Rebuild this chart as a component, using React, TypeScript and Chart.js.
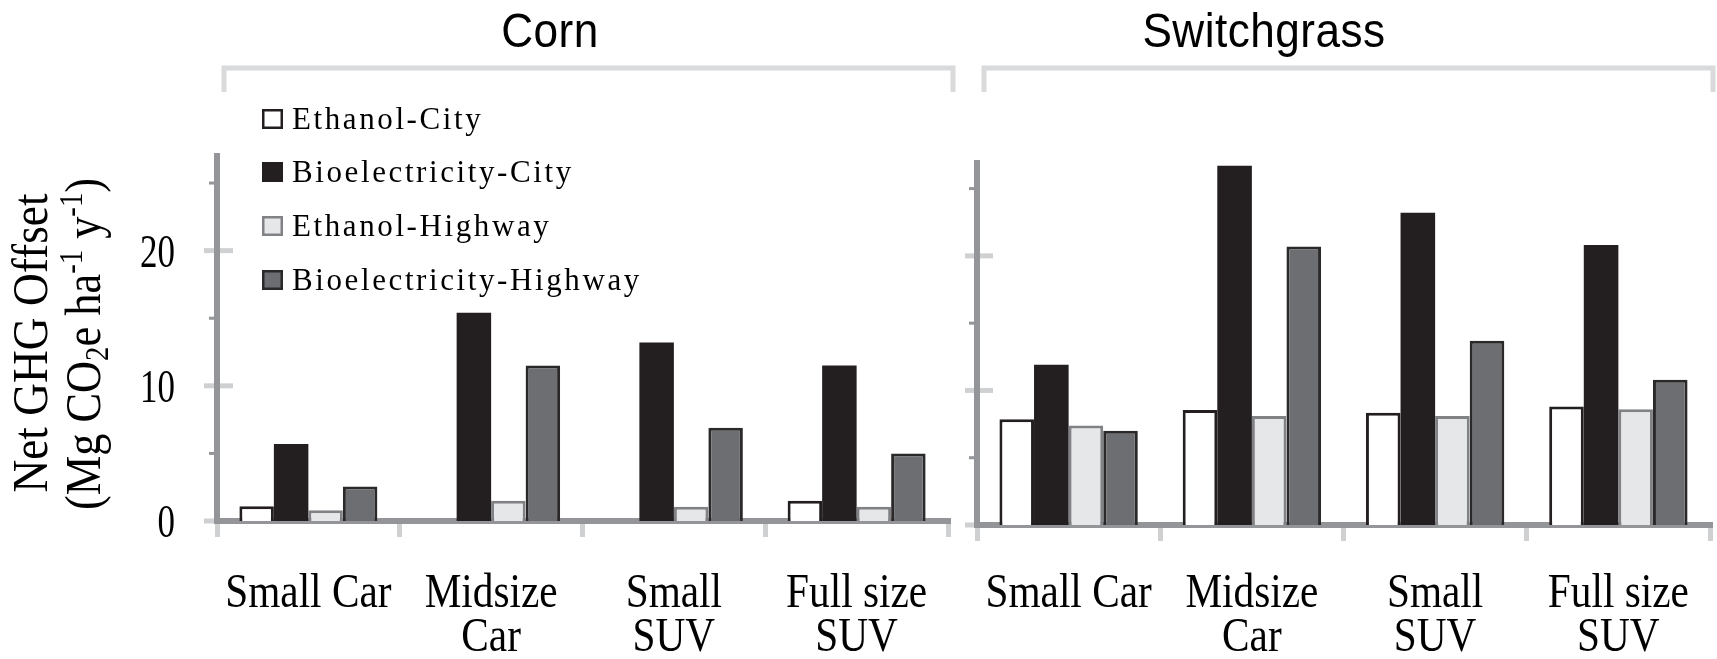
import React, { useEffect, useRef } from "react";
import { Chart, registerables } from "chart.js";

Chart.register(...registerables);

// Vehicle classes on the x axis (each entry is one label, split into lines)
const vehicleClasses: string[][] = [["Small Car"], ["Midsize", "Car"], ["Small", "SUV"], ["Full size", "SUV"]];

// Series names
const seriesNames = ["Ethanol-City", "Bioelectricity-City", "Ethanol-Highway", "Bioelectricity-Highway"];

// Corn: net GHG offset, Mg CO2e ha-1 y-1
const cornEthanolCity = [1.1, 0, 0, 1.5];
const cornBioelectricityCity = [5.7, 15.4, 13.2, 11.5];
const cornEthanolHighway = [0.8, 1.5, 1.05, 1.05];
const cornBioelectricityHighway = [2.55, 11.5, 6.9, 5.0];

// Switchgrass: net GHG offset, Mg CO2e ha-1 y-1
const switchgrassEthanolCity = [7.85, 8.55, 8.35, 8.8];
const switchgrassBioelectricityCity = [11.9, 26.7, 23.2, 20.8];
const switchgrassEthanolHighway = [7.4, 8.1, 8.1, 8.6];
const switchgrassBioelectricityHighway = [7.0, 20.7, 13.7, 10.8];

// Y axis tick marks and the ones that carry a label
const yTickMarks = [0, 5, 10, 15, 20, 25];
const yTickLabels = [0, 10, 20];

// Bar appearance per series
const seriesFill = ["#ffffff", "#231f20", "#e6e7e8", "#6d6e71"];
const seriesBorder = ["#231f20", "#231f20", "#808285", "#2b2829"];
const seriesBorderWidth = [3, 0, 3, 3];

const AXIS_GREY = "#939598";
const LIGHT_GREY = "#cfd0d2";

function buildDatasets(values: number[][]) {
  return values.map((data, i) => ({
    label: seriesNames[i],
    data,
    backgroundColor: seriesFill[i],
    borderColor: seriesBorder[i],
    borderWidth: seriesBorderWidth[i],
    borderSkipped: "start" as const,
    barPercentage: 1,
    categoryPercentage: 0.755,
  }));
}

// Draws text squeezed horizontally (narrow face), optionally rotated
function squeezedText(
  ctx: CanvasRenderingContext2D,
  text: string,
  x: number,
  y: number,
  font: string,
  sx: number,
  align: CanvasTextAlign,
  spacing = 0
) {
  ctx.save();
  ctx.translate(x, y);
  ctx.scale(sx, 1);
  ctx.font = font;
  ctx.textAlign = align;
  ctx.textBaseline = "alphabetic";
  (ctx as any).letterSpacing = spacing + "px";
  ctx.fillStyle = "#000";
  ctx.fillText(text, 0, 0);
  (ctx as any).letterSpacing = "0px";
  ctx.restore();
}

type Seg = { t: string; kind?: "sub" | "sup" };

// Vertical axis title line with sub/superscripts, reading bottom to top
function verticalRich(ctx: CanvasRenderingContext2D, segs: Seg[], baseX: number, centerY: number, size: number, sx: number) {
  const small = Math.round(size * 0.64);
  ctx.save();
  ctx.translate(baseX, centerY);
  ctx.rotate(-Math.PI / 2);
  ctx.scale(sx, 1);
  ctx.fillStyle = "#000";
  ctx.textBaseline = "alphabetic";
  ctx.textAlign = "left";
  const fontFor = (s: Seg) => `${s.kind ? small : size}px "Liberation Serif", "Times New Roman", serif`;
  let total = 0;
  for (const s of segs) {
    ctx.font = fontFor(s);
    total += ctx.measureText(s.t).width;
  }
  let x = -total / 2;
  for (const s of segs) {
    ctx.font = fontFor(s);
    const dy = s.kind === "sub" ? size * 0.16 : s.kind === "sup" ? -size * 0.36 : 0;
    ctx.fillText(s.t, x, dy);
    x += ctx.measureText(s.t).width;
  }
  ctx.restore();
}

const panelDecor = {
  id: "panelDecor",
  beforeDraw(chart: any, _args: any, o: any) {
    const ctx: CanvasRenderingContext2D = chart.ctx;
    const y = chart.scales.y;
    const ax = chart.chartArea.left;
    ctx.save();
    for (const v of yTickMarks) {
      const py = y.getPixelForValue(v);
      const major = v % 10 === 0;
      ctx.beginPath();
      ctx.strokeStyle = major ? LIGHT_GREY : AXIS_GREY;
      ctx.lineWidth = major ? 5 : 3;
      ctx.moveTo(ax - (major ? 13 : 8), py);
      ctx.lineTo(ax + (major ? 16 : 0), py);
      ctx.stroke();
    }
    ctx.restore();
  },
  afterDraw(chart: any, _args: any, o: any) {
    const ctx: CanvasRenderingContext2D = chart.ctx;
    const xs = chart.scales.x;
    const ys = chart.scales.y;

    // Panel title and its bracket
    squeezedText(ctx, o.title, o.titleX, 47, '48px "Liberation Sans", Arial, sans-serif', 0.92, "center", 0.5);
    ctx.save();
    ctx.strokeStyle = "#d9dadb";
    ctx.lineWidth = 5;
    ctx.lineJoin = "miter";
    ctx.beginPath();
    ctx.moveTo(o.bracketFrom, 92);
    ctx.lineTo(o.bracketFrom, 68);
    ctx.lineTo(o.bracketTo, 68);
    ctx.lineTo(o.bracketTo, 92);
    ctx.stroke();
    ctx.restore();

    // Category labels under the x axis
    const labels: string[][] = chart.data.labels;
    labels.forEach((lines, i) => {
      const cx = xs.getPixelForTick(i);
      lines.forEach((line, j) => {
        squeezedText(ctx, line, cx, 607 + j * 44, '48px "Liberation Serif", "Times New Roman", serif', 0.86, "center");
      });
    });

    if (o.yLabels) {
      for (const v of yTickLabels) {
        const py = ys.getPixelForValue(v);
        squeezedText(ctx, String(v), 175, py + 16, '46px "Liberation Serif", "Times New Roman", serif', 0.76, "right");
      }
    }

    if (o.yTitle) {
      verticalRich(ctx, [{ t: "Net GHG Offset" }], 47, 343, 51, 0.89);
      verticalRich(
        ctx,
        [
          { t: "(Mg CO" },
          { t: "2", kind: "sub" },
          { t: "e ha" },
          { t: "-1", kind: "sup" },
          { t: " y" },
          { t: "-1", kind: "sup" },
          { t: ")" },
        ],
        100,
        344,
        51,
        0.87
      );
    }

    if (o.legend) {
      const baselines = [129, 182, 236, 290];
      chart.data.datasets.forEach((ds: any, i: number) => {
        const b = baselines[i];
        ctx.save();
        ctx.fillStyle = ds.backgroundColor;
        ctx.fillRect(262, b - 20, 21, 20);
        if (ds.borderWidth > 0) {
          ctx.strokeStyle = ds.borderColor;
          ctx.lineWidth = 2.5;
          ctx.strokeRect(263.25, b - 18.75, 18.5, 17.5);
        }
        ctx.restore();
        squeezedText(ctx, ds.label, 292, b, '31px "Liberation Serif", "Times New Roman", serif', 1, "left", 2.6);
      });
    }
  },
};

type PanelProps = {
  left: number;
  width: number;
  values: number[][];
  yMax: number;
  padTop: number;
  padRight: number;
  yWidth: number;
  xHeight: number;
  decor: Record<string, unknown>;
};

function Panel({ left, width, values, yMax, padTop, padRight, yWidth, xHeight, decor }: PanelProps) {
  const ref = useRef<HTMLCanvasElement | null>(null);

  useEffect(() => {
    if (!ref.current) return;
    const chart = new Chart(ref.current, {
      type: "bar",
      data: { labels: vehicleClasses as any, datasets: buildDatasets(values) as any },
      options: {
        animation: false,
        responsive: false,
        devicePixelRatio: 1,
        layout: { padding: { top: padTop, right: padRight, left: 0, bottom: 0 } },
        plugins: {
          legend: { display: false },
          tooltip: { enabled: false },
          panelDecor: decor,
        } as any,
        scales: {
          x: {
            offset: true,
            ticks: { display: false },
            grid: {
              offset: true,
              drawOnChartArea: false,
              drawTicks: true,
              tickLength: 16,
              color: LIGHT_GREY,
              lineWidth: 5,
            },
            border: { display: true, color: AXIS_GREY, width: 6 },
            afterFit: (s: any) => {
              s.height = xHeight;
            },
          },
          y: {
            min: 0,
            max: yMax,
            ticks: { display: false, stepSize: 5 },
            grid: { display: false },
            border: { display: true, color: AXIS_GREY, width: 6 },
            afterFit: (s: any) => {
              s.width = yWidth;
            },
          },
        },
      },
      plugins: [panelDecor as any],
    });
    return () => chart.destroy();
  }, []);

  return (
    <canvas
      ref={ref}
      width={width}
      height={659}
      style={{ position: "absolute", left, top: 0, width, height: 659 }}
    />
  );
}

export default function App() {
  return (
    <div style={{ position: "fixed", left: 0, top: 0, width: 1717, height: 659, background: "#fff", overflow: "hidden" }}>
      <Panel
        left={0}
        width={965}
        values={[cornEthanolCity, cornBioelectricityCity, cornEthanolHighway, cornBioelectricityHighway]}
        yMax={27}
        padTop={156}
        padRight={17}
        yWidth={217}
        xHeight={138}
        decor={{ title: "Corn", titleX: 550, bracketFrom: 224, bracketTo: 953, legend: true, yLabels: true, yTitle: true }}
      />
      <Panel
        left={965}
        width={752}
        values={[switchgrassEthanolCity, switchgrassBioelectricityCity, switchgrassEthanolHighway, switchgrassBioelectricityHighway]}
        yMax={26.9}
        padTop={163}
        padRight={7}
        yWidth={12}
        xHeight={134}
        decor={{ title: "Switchgrass", titleX: 299, bracketFrom: 19, bracketTo: 748, legend: false, yLabels: false, yTitle: false }}
      />
    </div>
  );
}
